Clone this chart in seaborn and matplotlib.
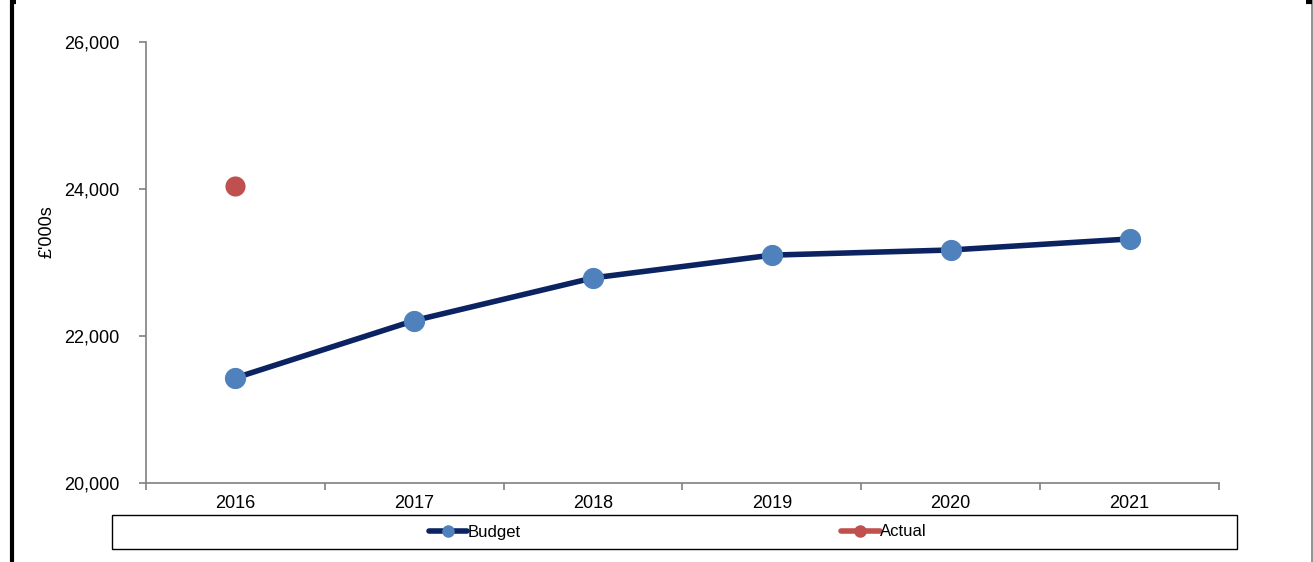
import pandas as pd
import matplotlib.pyplot as plt
import seaborn as sns
from matplotlib.lines import Line2D
from matplotlib.patches import Rectangle

# ==================== data ====================
YEARS = ["2016", "2017", "2018", "2019", "2020", "2021"]
BUDGET = [21430, 22210, 22790, 23100, 23170, 23320]
ACTUAL_YEARS = ["2016"]
ACTUAL = [24040]
Y_TICKS = [20000, 22000, 24000, 26000]
Y_LABEL = "£'000s"

NAVY = "#0B2461"
BLUE = "#4F81BD"
RED = "#C0504D"

sns.set_style("white")
plt.rcParams["font.family"] = ["Liberation Sans", "DejaVu Sans"]
plt.rcParams["text.color"] = "black"
plt.rcParams["xtick.color"] = "black"
plt.rcParams["ytick.color"] = "black"
plt.rcParams["axes.labelcolor"] = "black"

budget_df = pd.DataFrame({"pos": range(len(YEARS)), "value": BUDGET})
actual_df = pd.DataFrame({"pos": [YEARS.index(y) for y in ACTUAL_YEARS], "value": ACTUAL})

fig = plt.figure(figsize=(13.13, 5.62), dpi=100)
ax = fig.add_axes([0.1112, 0.1406, 0.8172, 0.7847])

sns.lineplot(data=budget_df, x="pos", y="value", ax=ax, color=NAVY, linewidth=4.0,
             marker="o", markersize=14.5, markerfacecolor=BLUE, markeredgecolor=BLUE)
sns.scatterplot(data=actual_df, x="pos", y="value", ax=ax, color=RED, s=210,
                edgecolor=RED, linewidth=0, zorder=3)

ax.set_xlim(-0.5, len(YEARS) - 0.5)
ax.set_ylim(Y_TICKS[0], Y_TICKS[-1])
ax.set_yticks(Y_TICKS)
ax.set_yticklabels([f"{v:,}" for v in Y_TICKS], fontsize=13)

# boundary ticks (major) + centred labels (minor)
ax.set_xticks([i - 0.5 for i in range(len(YEARS) + 1)])
ax.set_xticklabels([])
ax.set_xticks(range(len(YEARS)), minor=True)
ax.set_xticklabels(YEARS, minor=True, fontsize=13)
ax.tick_params(axis="x", which="major", bottom=True, direction="out", length=5,
               color="#808080", width=1.2)
ax.tick_params(axis="x", which="minor", bottom=True, length=0, pad=9)
ax.tick_params(axis="y", left=True, direction="out", length=5, color="#808080",
               width=1.2, pad=14)

ax.set_xlabel("")
ax.set_ylabel(Y_LABEL, fontsize=13)
ax.yaxis.set_label_coords(-0.084, 0.569)

for side in ["top", "right"]:
    ax.spines[side].set_visible(False)
for side in ["left", "bottom"]:
    ax.spines[side].set_color("#808080")
    ax.spines[side].set_linewidth(1.2)

# legend box
fig.add_artist(Rectangle((112 / 1313, 1 - 549 / 562), (1237 - 112) / 1313, 34 / 562,
                         transform=fig.transFigure, fill=False, edgecolor="black", linewidth=1))
handles = [
    Line2D([], [], color=NAVY, linewidth=4.0, marker="o", markersize=8,
           markerfacecolor=BLUE, markeredgecolor=BLUE, solid_capstyle="round"),
    Line2D([], [], color=RED, linewidth=4.0, marker="o", markersize=8,
           markerfacecolor=RED, markeredgecolor=RED, solid_capstyle="round"),
]
fig.legend(handles, ["Budget", "Actual"], loc="center", bbox_to_anchor=(678 / 1313, 1 - 532 / 562),
           ncol=2, frameon=False, fontsize=12, handlelength=2.3, handletextpad=0.05,
           columnspacing=19.2)

# outer frame bits
fig.add_artist(Line2D([12 / 1313, 12 / 1313], [0, 1], transform=fig.transFigure, color="black",
                      linewidth=3, solid_capstyle="butt"))
fig.add_artist(Line2D([12 / 1313, 16 / 1313], [0.997, 0.997], transform=fig.transFigure, color="black",
                      linewidth=3, solid_capstyle="butt"))
fig.add_artist(Line2D([1311.5 / 1313, 1311.5 / 1313], [0, 1], transform=fig.transFigure, color="#7f7f7f",
                      linewidth=1.2, solid_capstyle="butt"))
fig.add_artist(Line2D([1306 / 1313, 1312 / 1313], [0.997, 0.997], transform=fig.transFigure, color="black",
                      linewidth=3, solid_capstyle="butt"))

fig.savefig("out.png", dpi=100)
